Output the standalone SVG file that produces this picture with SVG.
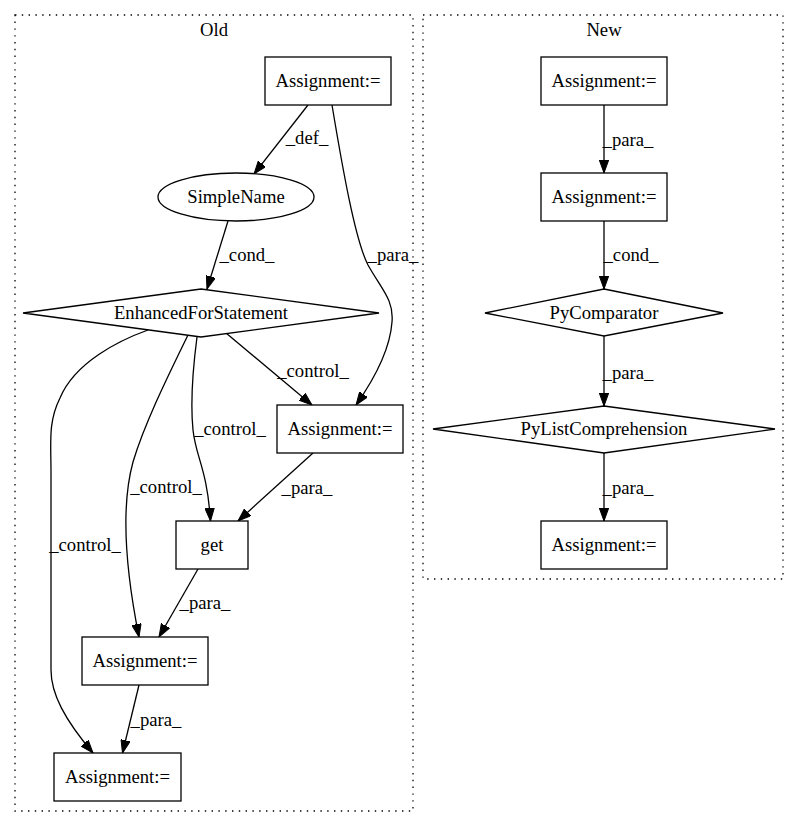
<svg xmlns="http://www.w3.org/2000/svg" width="800" height="828" viewBox="0 0 800 828">
<style>
text{font-family:"Liberation Serif","Times New Roman",serif;font-size:18.67px;fill:#000;text-anchor:middle}
.cl{fill:none;stroke:#000;stroke-width:1.3;stroke-dasharray:1.4,5.4}
.n{fill:#fff;stroke:#000;stroke-width:1.3}
.e{fill:none;stroke:#000;stroke-width:1.3;marker-end:url(#ah)}
</style>
<defs>
<marker id="ah" markerUnits="userSpaceOnUse" markerWidth="14" markerHeight="10" viewBox="0 -5 14 10" refX="13" refY="0" orient="auto">
<path d="M0,-4.7L13,0L0,4.7Z" fill="#000" stroke="#000" stroke-width="1"/>
</marker>
</defs>
<rect width="800" height="828" fill="#fff"/>
<g id="cluster_old">
<rect class="cl" x="15" y="15" width="398" height="796"/>
<text x="214" y="36">Old</text>
</g>
<g id="cluster_new">
<rect class="cl" x="423" y="15" width="360" height="564"/>
<text x="604" y="36">New</text>
</g>
<g id="edges">
<path class="e" d="M308,105L254,174"/>
<path class="e" d="M332,105C342,165 355,240 368,265C382,290 394,300 392,322C390,350 375,378 356,405"/>
<path class="e" d="M228,221L207,289"/>
<path class="e" d="M226,333L312,405"/>
<path class="e" d="M197,337C194,360 190,400 193,430C196,458 207,468 210.5,521"/>
<path class="e" d="M188,335C170,372 145,422 133,462C122,502 124,562 139,637"/>
<path class="e" d="M148,330C120,340 75,362 60,398C48,422 51,442 51,472L51,670C51,694 65,720 93,753"/>
<path class="e" d="M313,453L238,521"/>
<path class="e" d="M198,569L159,637"/>
<path class="e" d="M139,685L122.5,753"/>
<path class="e" d="M604,105L604,173"/>
<path class="e" d="M604,221L604,289"/>
<path class="e" d="M604,336L604,406"/>
<path class="e" d="M604,453L604,521"/>
<text x="307" y="144">_def_</text>
<text x="393" y="261">_para_</text>
<text x="247" y="261">_cond_</text>
<text x="313" y="377">_control_</text>
<text x="230" y="435">_control_</text>
<text x="166" y="493">_control_</text>
<text x="85" y="551">_control_</text>
<text x="307" y="494">_para_</text>
<text x="205" y="609">_para_</text>
<text x="156" y="726">_para_</text>
<text x="628" y="146">_para_</text>
<text x="631" y="261">_cond_</text>
<text x="628" y="379">_para_</text>
<text x="628" y="494">_para_</text>
</g>
<g id="old_a1"><rect class="n" x="265" y="57" width="126" height="48"/><text x="328" y="87">Assignment:=</text></g>
<g id="old_simplename"><ellipse class="n" cx="236" cy="197" rx="78" ry="24"/><text x="236" y="203">SimpleName</text></g>
<g id="old_efs"><polygon class="n" points="201,289 379,313 201,337 23,313"/><text x="201" y="319">EnhancedForStatement</text></g>
<g id="old_a2"><rect class="n" x="277" y="405" width="126" height="48"/><text x="340" y="435">Assignment:=</text></g>
<g id="old_get"><rect class="n" x="176" y="521" width="72" height="48"/><text x="212" y="551">get</text></g>
<g id="old_a3"><rect class="n" x="82" y="637" width="126" height="48"/><text x="145" y="667">Assignment:=</text></g>
<g id="old_a4"><rect class="n" x="54" y="753" width="127" height="48"/><text x="117.5" y="783">Assignment:=</text></g>
<g id="new_a1"><rect class="n" x="541" y="57" width="126" height="48"/><text x="604" y="87">Assignment:=</text></g>
<g id="new_a2"><rect class="n" x="541" y="173" width="126" height="48"/><text x="604" y="203">Assignment:=</text></g>
<g id="new_pycomp"><polygon class="n" points="604,289 723,313 604,336 485,313"/><text x="604" y="319">PyComparator</text></g>
<g id="new_pylc"><polygon class="n" points="604,406 775,429 604,453 433,429"/><text x="604" y="435">PyListComprehension</text></g>
<g id="new_a3"><rect class="n" x="541" y="521" width="126" height="48"/><text x="604" y="551">Assignment:=</text></g>
</svg>
